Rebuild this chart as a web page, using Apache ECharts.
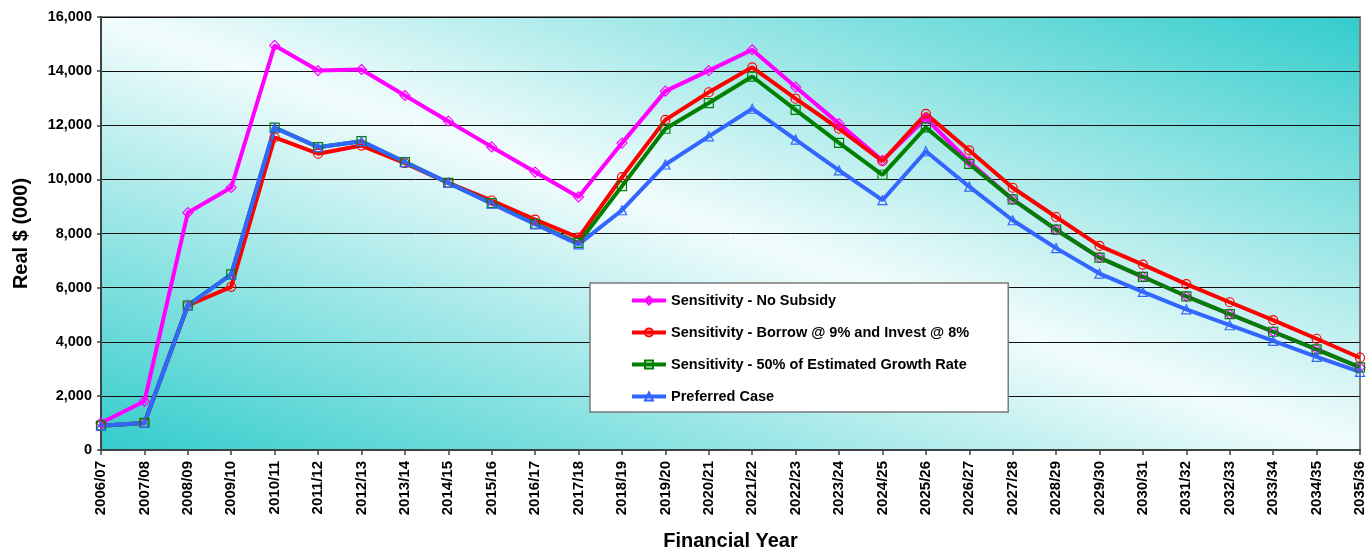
<!DOCTYPE html>
<html>
<head>
<meta charset="utf-8">
<script src="https://cdn.jsdelivr.net/npm/echarts@6/dist/echarts.min.js"></script>
<style>
  html, body { margin: 0; padding: 0; background: #fff; overflow: hidden; }
  #chart { width: 1366px; height: 549px; }
</style>
</head>
<body>
<div id="chart"></div>
<script>
// Financial years on the category axis
const years = [
  '2006/07', '2007/08', '2008/09', '2009/10', '2010/11', '2011/12', '2012/13', '2013/14',
  '2014/15', '2015/16', '2016/17', '2017/18', '2018/19', '2019/20', '2020/21', '2021/22',
  '2022/23', '2023/24', '2024/25', '2025/26', '2026/27', '2027/28', '2028/29', '2029/30',
  '2030/31', '2031/32', '2032/33', '2033/34', '2034/35', '2035/36'
];

// Real $ (000) per scenario
const noSubsidy = [
  1000, 1800, 8770, 9700, 14950, 14020, 14060, 13100, 12150, 11200, 10270, 9350, 11340, 13260,
  14020, 14790, 13410, 12060, 10700, 12250, 10650, 9260, 8140, 7110, 6400, 5680, 5020, 4370,
  3720, 3050
];
const borrowInvest = [
  900, 1000, 5340, 6030, 11550, 10950, 11250, 10600, 9870, 9220, 8510, 7850, 10080, 12200,
  13220, 14140, 12980, 11870, 10670, 12420, 11070, 9690, 8610, 7540, 6850, 6130, 5460, 4800,
  4110, 3410
];
const halfGrowth = [
  900, 1000, 5340, 6490, 11910, 11190, 11410, 10640, 9870, 9120, 8360, 7650, 9750, 11870,
  12820, 13800, 12570, 11350, 10170, 11920, 10570, 9260, 8140, 7110, 6400, 5680, 5020, 4370,
  3720, 3050
];
const preferred = [
  900, 1000, 5340, 6490, 11910, 11190, 11410, 10640, 9870, 9100, 8340, 7600, 8860, 10550,
  11590, 12610, 11470, 10330, 9230, 11040, 9730, 8490, 7460, 6520, 5840, 5200, 4610, 4030,
  3440, 2890
];

const seriesNames = [
  'Sensitivity - No Subsidy',
  'Sensitivity - Borrow @ 9% and Invest @ 8%',
  'Sensitivity - 50% of Estimated Growth Rate',
  'Preferred Case'
];

// Chart and plot area geometry (pixels)
const CW = 1366, CH = 549;
const G = { left: 101, top: 17, right: 6, bottom: 99 };
const W = CW - G.left - G.right;
const H = CH - G.top - G.bottom;

// Diagonal two-way fill for the plot area, stretched to the box so the
// pale band runs corner to corner (top-left to bottom-right).
const bg = document.createElement('canvas');
bg.width = W; bg.height = H;
const ctx = bg.getContext('2d');
ctx.setTransform(W, 0, 0, H, 0, 0);
const grad = ctx.createLinearGradient(0, 1, 1, 0);
grad.addColorStop(0, '#33CCCC');
grad.addColorStop(0.5, '#F2FCFC');
grad.addColorStop(1, '#33CCCC');
ctx.fillStyle = grad;
ctx.fillRect(0, 0, 1, 1);

const FONT = 'Liberation Sans, Arial, sans-serif';

function lineSeries(name, data, color, symbol, size) {
  return {
    name: name,
    type: 'line',
    data: data,
    symbol: symbol,
    symbolSize: size,
    showAllSymbol: true,
    lineStyle: { color: color, width: 4 },
    itemStyle: { color: 'rgba(255,255,255,0)', borderColor: color, borderWidth: 1.2 },
    emphasis: { disabled: true },
    animation: false
  };
}

const chart = echarts.init(document.getElementById('chart'), null, {
  renderer: 'canvas', width: CW, height: CH
});
chart.setOption({
  backgroundColor: '#ffffff',
  animation: false,
  textStyle: { fontFamily: FONT },
  graphic: {
    elements: [{
      type: 'image',
      left: G.left, top: G.top, z: -10, silent: true,
      style: { image: bg, width: W, height: H }
    }]
  },
  grid: {
    left: G.left, top: G.top, right: G.right, bottom: G.bottom,
    show: true, borderColor: '#808080', borderWidth: 2,
    backgroundColor: 'transparent', containLabel: false,
    outerBoundsMode: 'none'
  },
  legend: {
    orient: 'vertical',
    left: 590, top: 283,
    padding: [10, 39, 8, 40],
    itemGap: 17,
    itemWidth: 34, itemHeight: 10,
    backgroundColor: '#ffffff',
    borderColor: '#7a7a7a', borderWidth: 1.5,
    lineStyle: { width: 4 },
    textStyle: { fontFamily: FONT, fontSize: 14.5, fontWeight: 'bold', color: '#000' },
    data: seriesNames
  },
  xAxis: {
    type: 'category',
    data: years,
    boundaryGap: false,
    name: 'Financial Year',
    nameLocation: 'middle',
    nameGap: 81,
    nameTextStyle: { fontFamily: FONT, fontSize: 20, fontWeight: 'bold', color: '#000' },
    axisLine: { lineStyle: { color: '#3c4444', width: 2 } },
    axisTick: { alignWithLabel: true, length: 5, lineStyle: { color: '#3c4444', width: 1.5 } },
    axisLabel: {
      rotate: 90, interval: 0, margin: 11,
      fontFamily: FONT, fontSize: 15, fontWeight: 'bold', color: '#000'
    },
    splitLine: { show: false }
  },
  yAxis: {
    type: 'value',
    min: 0, max: 16000, interval: 2000,
    name: 'Real $ (000)',
    nameLocation: 'middle',
    nameGap: 70,
    nameTextStyle: { fontFamily: FONT, fontSize: 20, fontWeight: 'bold', color: '#000' },
    axisLine: { show: true, lineStyle: { color: '#3c4444', width: 2 } },
    axisTick: { show: true, length: 4, lineStyle: { color: '#3c4444', width: 1.5 } },
    axisLabel: {
      margin: 9,
      fontFamily: FONT, fontSize: 14.5, fontWeight: 'bold', color: '#000',
      formatter: v => v.toLocaleString('en-US')
    },
    splitLine: { show: true, lineStyle: { color: '#111', width: 1 } }
  },
  series: [
    lineSeries(seriesNames[0], noSubsidy, '#FF00FF', 'diamond', 10),
    lineSeries(seriesNames[1], borrowInvest, '#FF0000', 'circle', 9),
    lineSeries(seriesNames[2], halfGrowth, '#008000', 'rect', 9),
    lineSeries(seriesNames[3], preferred, '#3366FF', 'triangle', 9)
  ]
});
</script>
</body>
</html>
